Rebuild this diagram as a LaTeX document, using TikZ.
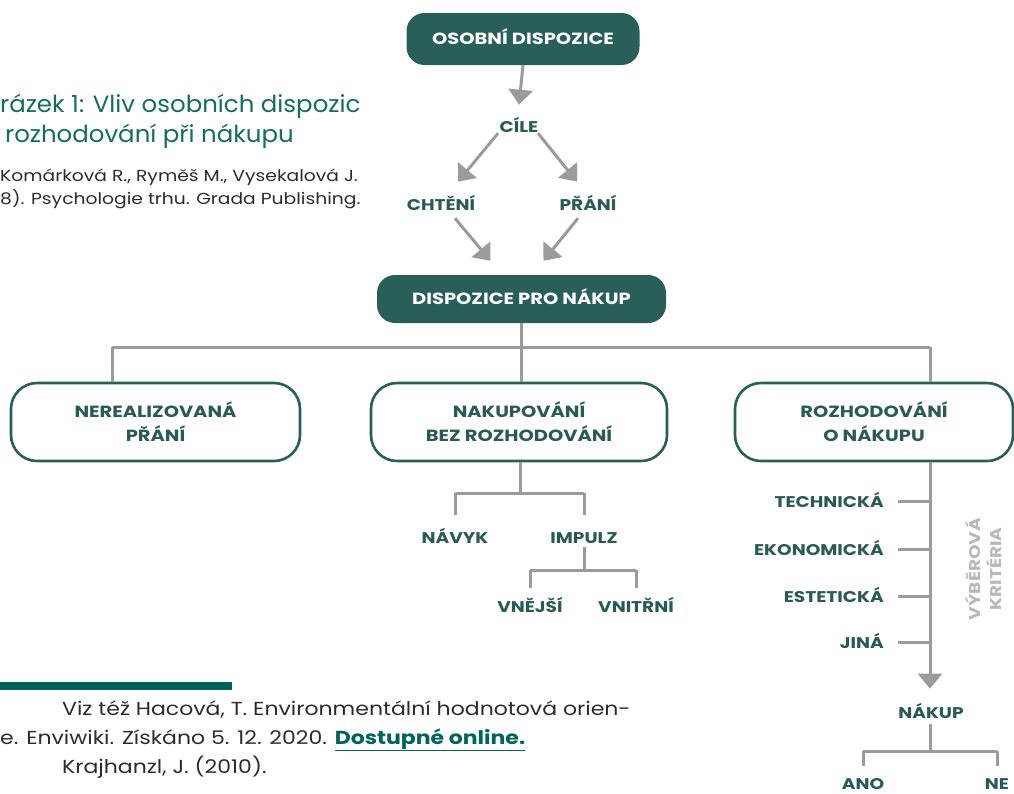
\documentclass[tikz,border=0pt]{standalone}
\usepackage{fontspec}
\setmainfont{Poppins}
\newfontfamily\diafont{Poppins}[FakeStretch=1.2]
\newfontfamily\bodyfam{Poppins}[FakeStretch=1.17]
\newfontfamily\capfam{Poppins}[FakeStretch=1.04]
\usetikzlibrary{arrows.meta,calc}
\definecolor{boxteal}{HTML}{2A5E58}
\definecolor{lblteal}{HTML}{2B5A55}
\definecolor{linegray}{HTML}{9B9B9B}
\definecolor{softgray}{HTML}{B8B8B8}
\definecolor{titleteal}{HTML}{176B60}
\definecolor{barteal}{HTML}{00635A}
\definecolor{bodytext}{HTML}{2B2B2B}
\newcommand{\boxfont}{\diafont\bfseries\fontsize{16.2}{24}\selectfont}
\newcommand{\lblfont}{\diafont\bfseries\fontsize{15.5}{24}\selectfont}
\begin{document}
\begin{tikzpicture}[x=1pt,y=-1pt,
  darkbox/.style={rounded corners=18pt, fill=boxteal, text=white, font=\boxfont,
    text height=11.3pt, text depth=0pt, inner sep=0pt},
  openbox/.style={rounded corners=26pt, draw=boxteal, line width=2.6pt, fill=white,
    text=lblteal, font=\boxfont, align=center, minimum height=78pt, inner sep=0pt},
  lbl/.style={text=lblteal, font=\lblfont, inner sep=0pt, anchor=base},
  crit/.style={lbl, anchor=base east},
  link/.style={draw=linegray, line width=3pt},
  arr/.style={link, -{Triangle[width=24pt,length=15pt]}},
  srcline/.style={text=bodytext, font=\bodyfam\fontsize{16}{20}\selectfont, inner sep=0pt, anchor=base west},
  noteline/.style={text=bodytext, font=\bodyfam\fontsize{18.8}{22}\selectfont, inner sep=0pt, anchor=base west},
  capline/.style={text=titleteal, font=\capfam\fontsize{23.5}{28}\selectfont, inner sep=0pt, anchor=base west},
]
\useasboundingbox (0,0) rectangle (1014,793);

% caption and source
\node[capline] (cap1) at (0,112) {rázek 1: Vliv osobních dispozic};
\node[capline] (cap2) at (5,142) {rozhodování při nákupu};
\node[srcline] (src1) at (0,181) {Komárková R., Ryměš M., Vysekalová J.};
\node[srcline] (src2) at (0,204) {8). Psychologie trhu. Grada Publishing.};

% upper part of the chart
\node[darkbox, minimum width=233pt, minimum height=52pt] (osob) at (523,39) {OSOBNÍ DISPOZICE};
\node[lbl] (cile) at (519,132) {CÍLE};
\node[lbl] (chteni) at (441,210) {CHTĚNÍ};
\node[lbl] (prani) at (588,210) {PŘÁNÍ};
\node[darkbox, minimum width=289pt, minimum height=48pt] (dpn) at (521.5,299) {DISPOZICE PRO NÁKUP};

\draw[arr] (osob.south) -- ([yshift=12pt]cile.north);
\draw[arr] ($(cile.south)+(-21,1)$) -- ($(chteni.north)+(17,-13)$);
\draw[arr] ($(cile.south)+(19,1)$) -- ($(prani.north)+(-11,-13)$);
\draw[arr] ($(chteni.south)+(14,8)$) -- ($(dpn.north)+(-31,-14)$);
\draw[arr] ($(prani.south)+(-10,8)$) -- ($(dpn.north)+(22,-14)$);

% three kinds of purchase disposition
\node[openbox, minimum width=289pt] (ner) at (155.5,422) {NEREALIZOVANÁ\\PŘÁNÍ};
\node[openbox, minimum width=296pt] (nbr) at (519,422) {NAKUPOVÁNÍ\\BEZ ROZHODOVÁNÍ};
\node[openbox, minimum width=278pt] (roz) at (874,422) {ROZHODOVÁNÍ\\O NÁKUPU};

\coordinate (busL) at (112,347);
\coordinate (busR) at (930,347);
\draw[link] (dpn.south) -- (dpn.south |- busL);
\draw[link] (busL) -- (busR);
\draw[link] (busL) -- (busL |- ner.north);
\draw[link] (dpn.south |- busL) -- (dpn.south |- nbr.north);
\draw[link] (busR) -- (busR |- roz.north);

% buying without deciding
\node[lbl] (navyk) at (455,543) {NÁVYK};
\node[lbl] (impulz) at (584,543) {IMPULZ};
\node[lbl] (vnejsi) at (530,612) {VNĚJŠÍ};
\node[lbl] (vnitrni) at (636,612) {VNITŘNÍ};
\coordinate (nbrJ) at (520,493);
\coordinate (impJ) at (584,570);
\draw[link] (nbr.south -| nbrJ) -- (nbrJ);
\draw[link] (navyk.north |- nbrJ) -- (impulz.north |- nbrJ);
\draw[link] (navyk.north |- nbrJ) -- ++(0,22);
\draw[link] (impulz.north |- nbrJ) -- ++(0,22);
\draw[link] ([yshift=-4pt]impulz.south) -- (impJ);
\draw[link] (vnejsi.north |- impJ) -- (vnitrni.north |- impJ);
\draw[link] (vnejsi.north |- impJ) -- ++(0,18);
\draw[link] (vnitrni.north |- impJ) -- ++(0,18);

% deciding about the purchase
\node[crit] (tech) at (884,507) {TECHNICKÁ};
\node[crit] (ekon) at (884,555) {EKONOMICKÁ};
\node[crit] (estet) at (884,602) {ESTETICKÁ};
\node[crit] (jina) at (884,648) {JINÁ};
\node[lbl] (nakup) at (931,718) {NÁKUP};
\node[rotate=90, align=center, text=softgray, font=\diafont\bfseries\fontsize{15.5}{21}\selectfont, inner sep=0pt] (vyber) at (983,569) {VÝBĚROVÁ\\KRITÉRIA};

\draw[arr] (roz.south -| busR) -- ([yshift=14pt]nakup.north -| busR);
\foreach \c in {tech,ekon,estet,jina}
  \draw[link] ([xshift=14pt,yshift=5.5pt]\c.base east) -- ([yshift=5.5pt]\c.base east -| busR);

\node[lbl] (ano) at (863,789) {ANO};
\node[lbl] (ne) at (997,789) {NE};
\coordinate (nakJ) at (930,751);
\draw[link] ([yshift=-6pt]nakup.south -| nakJ) -- (nakJ);
\draw[link] (ano.north |- nakJ) -- (ne.north |- nakJ);
\draw[link] (ano.north |- nakJ) -- ++(0,15);
\draw[link] (ne.north |- nakJ) -- ++(0,15);

% footnotes
\fill[barteal] (0,682) rectangle (232,690);
\node[noteline] (fn1) at (62,715) {Viz též Hacová, T. Environmentální hodnotová orien-};
\node[noteline] (fn2) at (0,744) {e. Enviwiki. Získáno 5. 12. 2020. {\color{barteal}\bfseries\underline{Dostupné online.}}};
\node[noteline] (fn3) at (62,773) {Krajhanzl, J. (2010).};
\end{tikzpicture}
\end{document}
